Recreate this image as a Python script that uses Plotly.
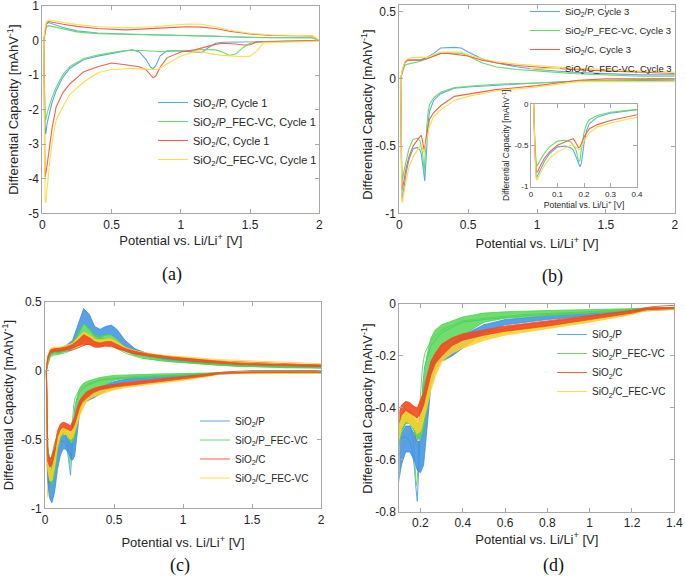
import plotly.graph_objects as go

# ------------------------------------------------------------------ data
# (a) cycle 1 : discharge branch (2 V -> 0.01 V) and charge branch (0.01 V -> 2 V)
a_dis_x = [2.0, 1.8, 1.65, 1.6, 1.55, 1.5, 1.45, 1.4, 1.35, 1.3, 1.25, 1.2, 1.15, 1.1, 1.0,
           0.9, 0.85, 0.82, 0.8, 0.78, 0.75, 0.7, 0.65, 0.6, 0.5, 0.4, 0.3, 0.2, 0.15, 0.1,
           0.07, 0.05, 0.035, 0.025, 0.02, 0.01]
a_dis_P = [0, -0.01, -0.02, -0.02, -0.02, -0.03, -0.03, -0.03, -0.04, -0.05, -0.08, -0.2, -0.35, -0.33, -0.3,
           -0.3, -0.45, -0.72, -0.82, -0.76, -0.55, -0.33, -0.27, -0.3, -0.37, -0.45, -0.55, -0.8, -1.05, -1.45,
           -1.8, -2.1, -2.4, -2.7, -2.5, 0]
a_dis_PF = [0, -0.01, -0.02, -0.03, -0.05, -0.08, -0.2, -0.38, -0.43, -0.33, -0.27, -0.26, -0.26, -0.28, -0.3,
            -0.32, -0.32, -0.31, -0.31, -0.3, -0.3, -0.29, -0.28, -0.29, -0.35, -0.42, -0.52, -0.75, -0.98, -1.35,
            -1.65, -1.9, -2.1, -2.3, -2.2, 0]
a_dis_C = [0, -0.01, -0.02, -0.02, -0.04, -0.12, -0.13, -0.1, -0.09, -0.08, -0.11, -0.17, -0.22, -0.27, -0.33,
           -0.5, -0.78, -1.02, -1.08, -1.0, -0.85, -0.76, -0.72, -0.7, -0.65, -0.76, -0.9, -1.25, -1.5, -1.92,
           -2.55, -3.25, -3.6, -3.85, -3.95, 0]
a_dis_CF = [-0.02, -0.03, -0.04, -0.06, -0.3, -0.45, -0.47, -0.46, -0.45, -0.43, -0.4, -0.36, -0.33, -0.32, -0.45,
            -0.68, -0.8, -0.84, -0.84, -0.83, -0.82, -0.82, -0.81, -0.82, -0.84, -0.93, -1.2, -1.55, -1.9, -2.3,
            -2.95, -3.65, -4.2, -4.7, -4.6, 0]
a_chg_x = [0.01, 0.02, 0.03, 0.045, 0.08, 0.15, 0.25, 0.4, 0.6, 0.8, 0.95, 1.05, 1.15, 1.25, 1.35,
           1.5, 1.65, 1.8, 1.95, 2.0]
a_chg_P = [0, 0.3, 0.48, 0.52, 0.47, 0.38, 0.28, 0.22, 0.19, 0.17, 0.16, 0.16, 0.15, 0.13, 0.11,
           0.09, 0.08, 0.08, 0.08, 0]
a_chg_PF = [0, 0.25, 0.4, 0.43, 0.4, 0.33, 0.25, 0.2, 0.17, 0.16, 0.15, 0.15, 0.14, 0.13, 0.11,
            0.09, 0.08, 0.08, 0.08, 0]
a_chg_C = [0, 0.3, 0.5, 0.55, 0.52, 0.47, 0.41, 0.35, 0.31, 0.34, 0.38, 0.4, 0.39, 0.35, 0.27,
           0.19, 0.15, 0.14, 0.13, 0]
a_chg_CF = [0, 0.35, 0.55, 0.6, 0.57, 0.52, 0.46, 0.4, 0.37, 0.4, 0.45, 0.48, 0.47, 0.4, 0.3,
            0.21, 0.16, 0.15, 0.14, 0]

# (b) cycle 3
b_dis_x = [2.0, 1.5, 1.3, 1.0, 0.7, 0.5, 0.4, 0.3, 0.25, 0.22, 0.21, 0.2, 0.19, 0.185, 0.18,
           0.17, 0.16, 0.15, 0.13, 0.1, 0.07, 0.05, 0.035, 0.025, 0.02, 0.015, 0.01]
b_dis_P = [-0.01, -0.01, -0.015, -0.03, -0.045, -0.06, -0.07, -0.11, -0.16, -0.24, -0.32, -0.48, -0.72, -0.76, -0.72,
           -0.62, -0.56, -0.53, -0.51, -0.52, -0.6, -0.7, -0.8, -0.88, -0.9, -0.6, 0]
b_dis_PF = [0, -0.01, -0.015, -0.03, -0.04, -0.055, -0.065, -0.1, -0.14, -0.19, -0.24, -0.35, -0.55, -0.68, -0.7,
            -0.56, -0.5, -0.46, -0.44, -0.45, -0.52, -0.6, -0.68, -0.74, -0.75, -0.5, 0]
b_dis_C = [0, 0, -0.01, -0.05, -0.08, -0.11, -0.13, -0.2, -0.25, -0.3, -0.35, -0.4, -0.48, -0.52, -0.53,
           -0.47, -0.42, -0.43, -0.46, -0.5, -0.58, -0.66, -0.75, -0.82, -0.83, -0.55, 0]
b_dis_CF = [-0.02, -0.02, -0.02, -0.06, -0.09, -0.13, -0.16, -0.23, -0.28, -0.35, -0.4, -0.45, -0.52, -0.55, -0.55,
            -0.52, -0.5, -0.5, -0.53, -0.58, -0.66, -0.75, -0.84, -0.91, -0.92, -0.6, 0]
b_chg_x = [0.01, 0.02, 0.04, 0.06, 0.1, 0.15, 0.2, 0.25, 0.3, 0.35, 0.4, 0.45, 0.5, 0.6, 0.7,
           0.85, 1.0, 1.25, 1.5, 1.75, 2.0]
b_chg_P = [0, 0.05, 0.12, 0.14, 0.14, 0.14, 0.16, 0.19, 0.23, 0.235, 0.235, 0.23, 0.2, 0.15, 0.12,
           0.09, 0.07, 0.05, 0.04, 0.03, 0.03]
b_chg_PF = [0, 0.04, 0.1, 0.11, 0.12, 0.13, 0.15, 0.17, 0.19, 0.195, 0.195, 0.19, 0.17, 0.12, 0.09,
            0.07, 0.06, 0.04, 0.03, 0.02, 0.02]
b_chg_C = [0, 0.05, 0.12, 0.14, 0.14, 0.14, 0.15, 0.17, 0.19, 0.19, 0.185, 0.18, 0.17, 0.14, 0.12,
           0.1, 0.09, 0.07, 0.06, 0.05, 0.04]
b_chg_CF = [0, 0.06, 0.13, 0.15, 0.16, 0.16, 0.16, 0.18, 0.2, 0.2, 0.2, 0.2, 0.18, 0.15, 0.13,
            0.11, 0.1, 0.08, 0.07, 0.06, 0.05]

# (c)/(d) all cycles: envelope (hi = least negative / highest, lo = lowest) of each band
cd_dis_x = [0.01, 0.02, 0.035, 0.05, 0.07, 0.09, 0.11, 0.13, 0.15, 0.17, 0.185, 0.2, 0.215, 0.23,
            0.25, 0.27, 0.3, 0.35, 0.4, 0.5, 0.6, 0.8, 1.0, 1.2, 1.27, 1.5, 2.0]
cd_dis_P_hi = [0, -0.55, -0.68, -0.71, -0.65, -0.55, -0.5, -0.47, -0.47, -0.5, -0.53, -0.53, -0.47, -0.37,
               -0.26, -0.21, -0.18, -0.15, -0.12, -0.08, -0.06, -0.045, -0.035, -0.025, -0.02, -0.01, -0.01]
cd_dis_P_lo = [0, -0.8, -0.93, -0.96, -0.88, -0.72, -0.62, -0.57, -0.57, -0.6, -0.64, -0.65, -0.62, -0.5,
               -0.31, -0.25, -0.22, -0.2, -0.17, -0.11, -0.08, -0.06, -0.045, -0.03, -0.025, -0.015, -0.015]
cd_dis_PF_hi = [0, -0.55, -0.66, -0.69, -0.62, -0.5, -0.44, -0.42, -0.42, -0.44, -0.46, -0.45, -0.3, -0.2,
                -0.13, -0.1, -0.08, -0.065, -0.05, -0.035, -0.03, -0.025, -0.022, -0.018, -0.015, -0.01, -0.01]
cd_dis_PF_lo = [0, -0.7, -0.8, -0.83, -0.75, -0.58, -0.5, -0.46, -0.46, -0.49, -0.52, -0.52, -0.48, -0.4,
                -0.27, -0.22, -0.17, -0.14, -0.12, -0.07, -0.055, -0.045, -0.035, -0.025, -0.02, -0.015, -0.015]
cd_dis_C_hi = [0, -0.6, -0.64, -0.62, -0.55, -0.44, -0.39, -0.375, -0.38, -0.395, -0.4, -0.37, -0.34, -0.28,
               -0.22, -0.19, -0.155, -0.13, -0.115, -0.1, -0.085, -0.065, -0.045, -0.025, -0.015, -0.012, -0.012]
cd_dis_C_lo = [0, -0.66, -0.7, -0.68, -0.6, -0.48, -0.43, -0.41, -0.42, -0.43, -0.44, -0.42, -0.39, -0.34,
               -0.27, -0.23, -0.2, -0.16, -0.14, -0.12, -0.105, -0.085, -0.06, -0.035, -0.022, -0.015, -0.015]
cd_dis_CF_hi = [0, -0.62, -0.7, -0.72, -0.64, -0.5, -0.43, -0.4, -0.41, -0.43, -0.45, -0.43, -0.4, -0.35,
                -0.28, -0.23, -0.18, -0.155, -0.14, -0.12, -0.1, -0.08, -0.055, -0.03, -0.02, -0.015, -0.015]
cd_dis_CF_lo = [0, -0.72, -0.8, -0.8, -0.7, -0.56, -0.48, -0.45, -0.46, -0.48, -0.5, -0.49, -0.45, -0.4,
                -0.33, -0.28, -0.22, -0.19, -0.17, -0.14, -0.12, -0.095, -0.07, -0.04, -0.025, -0.02, -0.02]

cd_chg_x = [0.01, 0.02, 0.04, 0.07, 0.1, 0.15, 0.2, 0.24, 0.28, 0.32, 0.36, 0.4, 0.44, 0.48, 0.52,
            0.58, 0.65, 0.75, 0.9, 1.1, 1.4, 1.7, 2.0]
cd_chg_P_hi = [0, 0.1, 0.15, 0.16, 0.16, 0.18, 0.22, 0.33, 0.45, 0.41, 0.32, 0.3, 0.32, 0.33, 0.3,
               0.22, 0.16, 0.12, 0.09, 0.07, 0.045, 0.035, 0.03]
cd_chg_P_lo = [0, 0.08, 0.12, 0.13, 0.13, 0.15, 0.18, 0.26, 0.34, 0.3, 0.25, 0.24, 0.26, 0.26, 0.23,
               0.17, 0.13, 0.1, 0.075, 0.055, 0.035, 0.025, 0.02]
cd_chg_PF_hi = [0, 0.09, 0.13, 0.14, 0.14, 0.16, 0.2, 0.27, 0.34, 0.31, 0.26, 0.25, 0.26, 0.26, 0.23,
                0.17, 0.13, 0.1, 0.075, 0.06, 0.04, 0.03, 0.025]
cd_chg_PF_lo = [0, 0.07, 0.11, 0.12, 0.12, 0.14, 0.17, 0.22, 0.26, 0.25, 0.21, 0.2, 0.21, 0.21, 0.19,
                0.14, 0.11, 0.085, 0.065, 0.05, 0.03, 0.022, 0.018]
cd_chg_C_hi = [0, 0.1, 0.15, 0.16, 0.16, 0.17, 0.19, 0.22, 0.26, 0.24, 0.21, 0.2, 0.21, 0.21, 0.19,
               0.16, 0.14, 0.12, 0.1, 0.08, 0.055, 0.045, 0.04]
cd_chg_C_lo = [0, 0.08, 0.13, 0.14, 0.14, 0.15, 0.16, 0.18, 0.19, 0.19, 0.17, 0.17, 0.18, 0.18, 0.16,
               0.14, 0.12, 0.105, 0.085, 0.065, 0.045, 0.035, 0.03]
cd_chg_CF_hi = [0, 0.11, 0.16, 0.17, 0.17, 0.18, 0.2, 0.24, 0.28, 0.26, 0.23, 0.22, 0.23, 0.23, 0.21,
                0.17, 0.145, 0.125, 0.105, 0.085, 0.06, 0.048, 0.04]
cd_chg_CF_lo = [0, 0.09, 0.14, 0.15, 0.15, 0.16, 0.18, 0.2, 0.22, 0.21, 0.19, 0.19, 0.2, 0.2, 0.18,
                0.15, 0.13, 0.11, 0.09, 0.07, 0.05, 0.04, 0.035]

materials = ["SiO<sub>2</sub>/P", "SiO<sub>2</sub>/P_FEC-VC", "SiO<sub>2</sub>/C", "SiO<sub>2</sub>/C_FEC-VC"]
line_colors = ["#5aaae6", "#6cd96c", "#f0644a", "#ffdc4a"]
band_colors = ["#3b8fe3", "#4cd44c", "#f24a1e", "#ffd02a"]
band_fill = ["rgba(59,143,227,0.85)", "rgba(76,212,76,0.8)", "rgba(242,74,30,0.9)", "rgba(255,208,42,0.85)"]

a_dis = [a_dis_P, a_dis_PF, a_dis_C, a_dis_CF]
a_chg = [a_chg_P, a_chg_PF, a_chg_C, a_chg_CF]
b_dis = [b_dis_P, b_dis_PF, b_dis_C, b_dis_CF]
b_chg = [b_chg_P, b_chg_PF, b_chg_C, b_chg_CF]
cd_dis = [(cd_dis_P_hi, cd_dis_P_lo), (cd_dis_PF_hi, cd_dis_PF_lo),
          (cd_dis_C_hi, cd_dis_C_lo), (cd_dis_CF_hi, cd_dis_CF_lo)]
cd_chg = [(cd_chg_P_hi, cd_chg_P_lo), (cd_chg_PF_hi, cd_chg_PF_lo),
          (cd_chg_C_hi, cd_chg_C_lo), (cd_chg_CF_hi, cd_chg_CF_lo)]

# ------------------------------------------------------------------ figure
W, H = 685, 583
FONT = "Liberation Sans"
SERIF = "Liberation Serif"
fig = go.Figure()

def px_x(v):
    return min(1.0, max(0.0, v / W))

def px_y(v):
    return min(1.0, max(0.0, 1 - v / H))

# panel (a)
for i in range(4):
    fig.add_trace(go.Scatter(x=a_dis_x + a_chg_x, y=a_dis[i] + a_chg[i], mode="lines",
                             line=dict(color=line_colors[i], width=1.1),
                             name=materials[i] + ", Cycle 1", legend="legend",
                             xaxis="x", yaxis="y"))
# panel (b) + inset
for i in range(4):
    fig.add_trace(go.Scatter(x=b_dis_x + b_chg_x, y=b_dis[i] + b_chg[i], mode="lines",
                             line=dict(color=line_colors[i], width=1.1),
                             name=materials[i] + ", Cycle 3", legend="legend2",
                             xaxis="x2", yaxis="y2"))
for i in range(4):
    fig.add_trace(go.Scatter(x=b_dis_x + b_chg_x, y=b_dis[i] + b_chg[i], mode="lines",
                             line=dict(color=line_colors[i], width=1.1),
                             showlegend=False, xaxis="x3", yaxis="y3"))

# panels (c) and (d)
for pan, (xa, ya, lg) in enumerate([("x4", "y4", "legend3"), ("x5", "y5", "legend4")]):
    for i in range(4):
        fig.add_trace(go.Scatter(x=b_dis_x + b_chg_x, y=b_dis[i] + b_chg[i], mode="lines",
                                 line=dict(color=line_colors[i], width=1),
                                 name=materials[i], legend=lg, xaxis=xa, yaxis=ya))
    for i in [0, 1, 3, 2]:
        hi, lo = cd_dis[i]
        fig.add_trace(go.Scatter(x=cd_dis_x + cd_dis_x[::-1], y=hi + lo[::-1], mode="lines",
                                 fill="toself", fillcolor=band_fill[i],
                                 line=dict(color=band_colors[i], width=0.8),
                                 showlegend=False, xaxis=xa, yaxis=ya))
        if pan == 0:
            hi, lo = cd_chg[i]
            fig.add_trace(go.Scatter(x=cd_chg_x + cd_chg_x[::-1], y=hi + lo[::-1], mode="lines",
                                     fill="toself", fillcolor=band_fill[i],
                                     line=dict(color=band_colors[i], width=0.8),
                                     showlegend=False, xaxis=xa, yaxis=ya))

AX_COL = "#a8a8a8"
TXT_COL = "#262626"

def axis(domain, rng, tickvals, ticktext, anchor, title, size=12, tsize=13, standoff=6):
    d = dict(domain=domain, range=rng, tickvals=tickvals, ticktext=ticktext, anchor=anchor,
             showline=True, mirror="ticks", linecolor=AX_COL, linewidth=1,
             ticks="inside", ticklen=4, tickcolor=AX_COL, showgrid=False, zeroline=False,
             automargin=False, ticklabeloverflow="allow",
             tickfont=dict(family=FONT, size=size, color=TXT_COL))
    if title:
        d["title"] = dict(text=title, standoff=standoff,
                          font=dict(family=FONT, size=tsize, color=TXT_COL))
    return d

XT = "Potential vs. Li/Li<sup>+</sup> [V]"
YT = "Differential Capacity [mAhV<sup>-1</sup>]"

x02 = [0, 0.5, 1, 1.5, 2]
x02t = ["0", "0.5", "1", "1.5", "2"]

fig.update_layout(
    width=W, height=H, margin=dict(l=0, r=0, t=0, b=0, autoexpand=False),
    paper_bgcolor="white", plot_bgcolor="white",
    font=dict(family=FONT, size=12, color=TXT_COL),
    xaxis=axis([px_x(42.3), px_x(319.3)], [0, 2], x02, x02t, "y", XT, standoff=0),
    yaxis=axis([px_y(213.3), px_y(6)], [-5, 1], [-5, -4, -3, -2, -1, 0, 1],
               ["-5", "-4", "-3", "-2", "-1", "0", "1"], "x", YT, standoff=6),
    xaxis2=axis([px_x(399.3), px_x(674.8)], [0, 2], x02, x02t, "y2", XT, standoff=8),
    yaxis2=axis([px_y(213.3), px_y(5)], [-1, 0.55], [-1, -0.5, 0, 0.5],
                ["-1", "-0.5", "0", "0.5"], "x2", None),
    xaxis3=axis([px_x(531), px_x(637)], [0, 0.4], [0, 0.1, 0.2, 0.3, 0.4],
                ["0", "0.1", "0.2", "0.3", "0.4"], "y3", XT, size=8, tsize=8.5, standoff=3),
    yaxis3=axis([px_y(186.5), px_y(104)], [-1, 0], [-1, -0.5, 0], ["-1", "-0.5", "0"], "x3",
                YT, size=8, tsize=8.5, standoff=3),
    xaxis4=axis([px_x(45), px_x(321)], [0, 2], x02, x02t, "y4", XT, standoff=12),
    yaxis4=axis([px_y(508.3), px_y(301.7)], [-1, 0.5], [-1, -0.5, 0, 0.5],
                ["-1", "-0.5", "0", "0.5"], "x4", YT, standoff=4),
    xaxis5=axis([px_x(399.3), px_x(674.3)], [0.1, 1.4], [0.2, 0.4, 0.6, 0.8, 1, 1.2, 1.4],
                ["0.2", "0.4", "0.6", "0.8", "1", "1.2", "1.4"], "y5", XT, standoff=0),
    yaxis5=axis([px_y(511.7), px_y(304)], [-0.8, 0], [-0.8, -0.6, -0.4, -0.2, 0],
                ["-0.8", "-0.6", "-0.4", "-0.2", "0"], "x5", None),
    legend=dict(x=px_x(153), y=px_y(131), xanchor="left", yanchor="middle",
                bgcolor="rgba(0,0,0,0)", font=dict(family=FONT, size=11, color=TXT_COL)),
    legend2=dict(x=px_x(525), y=px_y(40), xanchor="left", yanchor="middle",
                 bgcolor="rgba(0,0,0,0)", font=dict(family=FONT, size=9.5, color=TXT_COL)),
    legend3=dict(x=px_x(195), y=px_y(449.5), xanchor="left", yanchor="middle",
                 bgcolor="rgba(0,0,0,0)", font=dict(family=FONT, size=10, color=TXT_COL)),
    legend4=dict(x=px_x(552), y=px_y(363), xanchor="left", yanchor="middle",
                 bgcolor="rgba(0,0,0,0)", font=dict(family=FONT, size=10, color=TXT_COL)),
)

# y-axis titles of (b) and (d), placed where the reference shows them
for cx, cy in [(366.7, 115), (366.7, 409)]:
    fig.add_annotation(text=YT, x=px_x(cx), y=px_y(cy), xref="paper", yref="paper",
                       showarrow=False, textangle=-90, xanchor="center", yanchor="middle",
                       font=dict(family=FONT, size=13, color=TXT_COL))

for lab, cx, cy in [("(a)", 172, 274), ("(b)", 552, 276), ("(c)", 180, 565), ("(d)", 553, 565)]:
    fig.add_annotation(text=lab, x=px_x(cx), y=px_y(cy), xref="paper", yref="paper",
                       showarrow=False, xanchor="center", yanchor="middle",
                       font=dict(family=SERIF, size=18, color="#111111"))

fig.write_html("out.html", config={"displayModeBar": False},
               post_script="document.body.style.margin='0';document.body.style.overflow='hidden';")
